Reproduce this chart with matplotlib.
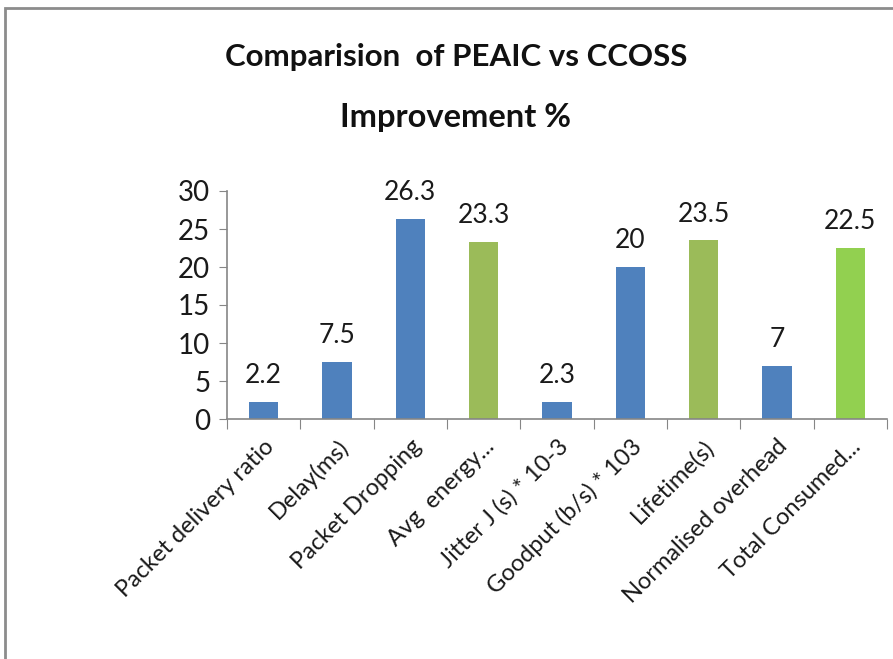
import matplotlib.pyplot as plt
from matplotlib.patches import Rectangle

# Chart data
categories = ['Packet delivery ratio', 'Delay(ms)', 'Packet Dropping', 'Avg  energy...',
              'Jitter J (s) * 10-3', 'Goodput (b/s) * 103', 'Lifetime(s)',
              'Normalised overhead', 'Total Consumed...']
values = [2.2, 7.5, 26.3, 23.3, 2.3, 20, 23.5, 7, 22.5]
value_labels = ['2.2', '7.5', '26.3', '23.3', '2.3', '20', '23.5', '7', '22.5']
bar_colors = ['#4F81BD', '#4F81BD', '#4F81BD', '#9BBB59', '#4F81BD',
              '#4F81BD', '#9BBB59', '#4F81BD', '#92D050']
y_ticks = [0, 5, 10, 15, 20, 25, 30]

plt.rcParams['font.family'] = ['Lato', 'DejaVu Sans']

fig = plt.figure(figsize=(8.93, 6.59), dpi=100)

# Outer chart frame (right and bottom edges run off the picture)
fig.patches.append(Rectangle((5 / 893, -0.05), 1.1, 1.05 - 8 / 659, transform=fig.transFigure,
                             fill=False, edgecolor='#8c8c8c', linewidth=2))

ax = fig.add_axes([227 / 893, 1 - 419 / 659, 660 / 893, 228 / 659])

x = range(len(categories))
ax.bar(x, values, width=0.4, color=bar_colors)

for xi, v, lab in zip(x, values, value_labels):
    ax.annotate(lab, (xi, v), xytext=(0, 10), textcoords='offset points',
                ha='center', va='bottom', fontsize=19, color='#1a1a1a')

ax.set_xlim(-0.5, len(categories) - 0.5)
ax.set_ylim(0, 30)
ax.set_yticks(y_ticks)
ax.tick_params(axis='y', labelsize=20, length=6, color='#868686', labelcolor='#1a1a1a', pad=6)

# category labels and boundary ticks
ax.set_xticks([i - 0.5 for i in range(len(categories) + 1)], minor=False)
ax.set_xticklabels([''] * (len(categories) + 1))
ax.tick_params(axis='x', length=7, color='#868686')
ax.set_xticks(list(x), minor=True)
ax.set_xticklabels(categories, minor=True, rotation=45, ha='right', va='top',
                   rotation_mode='anchor', fontsize=17, color='#1a1a1a')
ax.tick_params(axis='x', which='minor', length=0, pad=12)

for s in ['top', 'right']:
    ax.spines[s].set_visible(False)
for s in ['left', 'bottom']:
    ax.spines[s].set_color('#868686')
    ax.spines[s].set_linewidth(1.2)

fig.text(456 / 893, 1 - 57 / 659, 'Comparision  of PEAIC vs CCOSS', ha='center', va='center',
         fontsize=22.5, fontweight='bold', color='#111111')
fig.text(456 / 893, 1 - 118 / 659, 'Improvement %', ha='center', va='center',
         fontsize=23.5, fontweight='bold', color='#111111')

fig.savefig('out.png', dpi=100)
